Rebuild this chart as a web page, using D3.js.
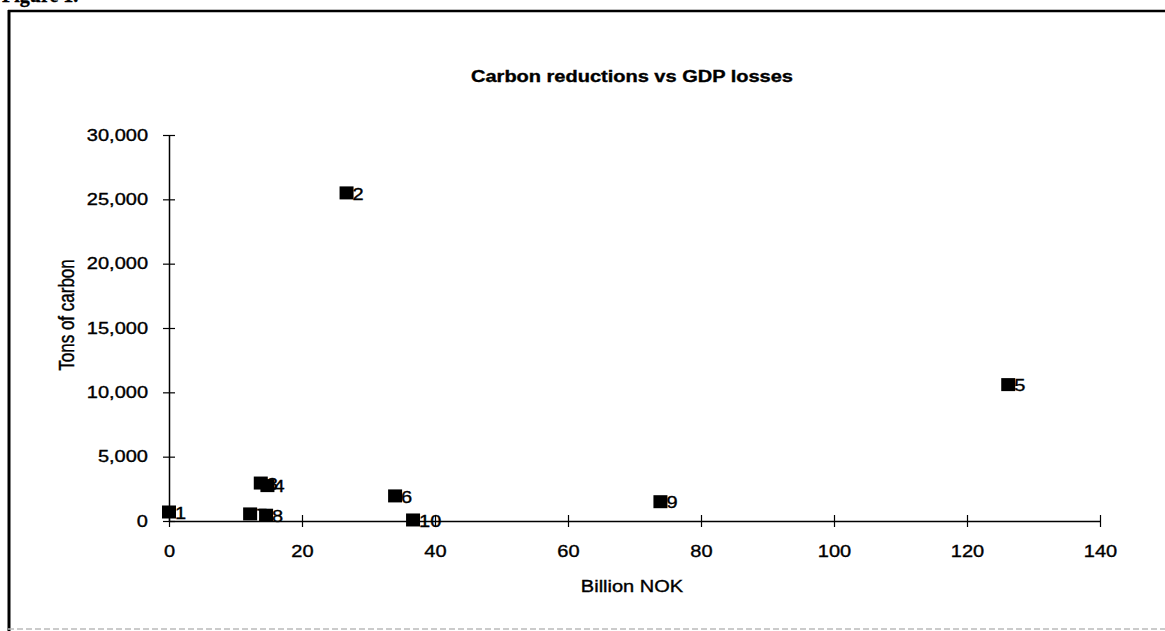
<!DOCTYPE html>
<html>
<head>
<meta charset="utf-8">
<script src="https://cdn.jsdelivr.net/npm/d3@7"></script>
<style>
  html, body { margin: 0; padding: 0; background: #fff; }
  svg { display: block; }
  text { font-family: "Liberation Sans", Arial, sans-serif; fill: #000; stroke: #000; stroke-width: 0.35px; }
</style>
</head>
<body>
<svg id="chart" width="1165" height="631"></svg>
<script>
// Scenario results: GDP loss (billion NOK) against carbon reduction (tons)
const scenarioLabels = ["1", "2", "3", "4", "5", "6", "7", "8", "9", "10"];
const gdpLoss = [0, 26.7, 13.8, 14.8, 126.2, 34.0, 12.2, 14.6, 73.9, 36.7];
const carbonReduction = [700, 25500, 2950, 2750, 10600, 1950, 550, 450, 1500, 80];

const xTicks = [0, 20, 40, 60, 80, 100, 120, 140];
const yTicks = [0, 5000, 10000, 15000, 20000, 25000, 30000];

const chartTitle = "Carbon reductions vs GDP losses";
const xTitle = "Billion NOK";
const yTitle = "Tons of carbon";
const figureCaption = "Figure 1.";

const W = 1165, H = 631;
const STRETCH = 1.25; // horizontal widening of the lettering

const svg = d3.select("#chart");

const x = d3.scaleLinear().domain([0, 140]).range([169, 1100]);
const y = d3.scaleLinear().domain([0, 30000]).range([521, 135]);

// Helper: place horizontally widened text
function label(parent, px, py, str, opts = {}) {
  const g = parent.append("g").attr("transform", `translate(${px},${py})`);
  const t = g.append("text")
    .attr("transform", `scale(${STRETCH},1)` + (opts.rotate ? ` rotate(${opts.rotate})` : ""))
    .attr("text-anchor", opts.anchor || "start")
    .attr("dy", opts.dy || "0.35em")
    .style("font-size", (opts.size || 16) + "px")
    .style("font-weight", opts.weight || "normal")
    .text(str);
  if (opts.family) t.style("font-family", opts.family);
  return g;
}

// Page caption above the frame (cut off at the top edge)
svg.append("text")
  .attr("x", 2).attr("y", 2)
  .style("font-family", "'Liberation Serif', 'Times New Roman', serif")
  .style("font-weight", "bold")
  .style("font-size", "20px")
  .text(figureCaption);

// Chart frame
svg.append("line").attr("x1", 9).attr("x2", 9).attr("y1", 10).attr("y2", H)
  .attr("stroke", "#000").attr("stroke-width", 3);
svg.append("line").attr("x1", 8).attr("x2", W).attr("y1", 11).attr("y2", 11)
  .attr("stroke", "#000").attr("stroke-width", 2.5);
svg.append("line").attr("x1", 8).attr("x2", W).attr("y1", 629).attr("y2", 629)
  .attr("stroke", "#bbb").attr("stroke-width", 1.5).attr("stroke-dasharray", "6,3");

// Title
label(svg, 632, 76, chartTitle, { anchor: "middle", weight: "bold", size: 16 });

// Y axis
const yAxis = svg.append("g")
  .attr("transform", `translate(${x(0)},0)`)
  .call(d3.axisLeft(y).tickValues(yTicks).tickFormat(d3.format(",")).tickSizeOuter(0));
yAxis.select(".domain").attr("stroke", "#000").attr("stroke-width", 1.5);
yAxis.selectAll(".tick line").attr("x1", -6).attr("x2", 6).attr("stroke-width", 1.2);
yAxis.selectAll(".tick text")
  .attr("x", -21 / STRETCH)
  .attr("transform", `scale(${STRETCH},1)`)
  .style("font-size", "16px")
  .style("font-family", "'Liberation Sans', Arial, sans-serif");

// X axis
const xAxis = svg.append("g")
  .attr("transform", `translate(0,${y(0)})`)
  .call(d3.axisBottom(x).tickValues(xTicks).tickSizeOuter(0));
xAxis.select(".domain").attr("stroke", "#000").attr("stroke-width", 1.5);
xAxis.selectAll(".tick line").attr("y1", -6).attr("y2", 6).attr("stroke-width", 1.2);
xAxis.selectAll(".tick text")
  .attr("y", 25)
  .attr("transform", `scale(${STRETCH},1)`)
  .style("font-size", "16px")
  .style("font-family", "'Liberation Sans', Arial, sans-serif");

// Axis titles
label(svg, 632, 586, xTitle, { anchor: "middle", size: 16 });
label(svg, 67, 315, yTitle, { anchor: "middle", size: 17, rotate: -90 });

// Scenario markers with their labels
const MW = 14, MH = 13;
const pts = scenarioLabels.map((id, i) => ({ id, gx: gdpLoss[i], cy: carbonReduction[i] }));
const pg = svg.append("g");
pts.forEach(p => {
  const cx = x(p.gx), cy = y(p.cy);
  pg.append("rect")
    .attr("x", cx - MW / 2).attr("y", cy - MH / 2)
    .attr("width", MW).attr("height", MH)
    .attr("fill", "#000");
  label(pg, cx + 6, cy + 1, p.id, { size: 16 });
});
</script>
</body>
</html>
